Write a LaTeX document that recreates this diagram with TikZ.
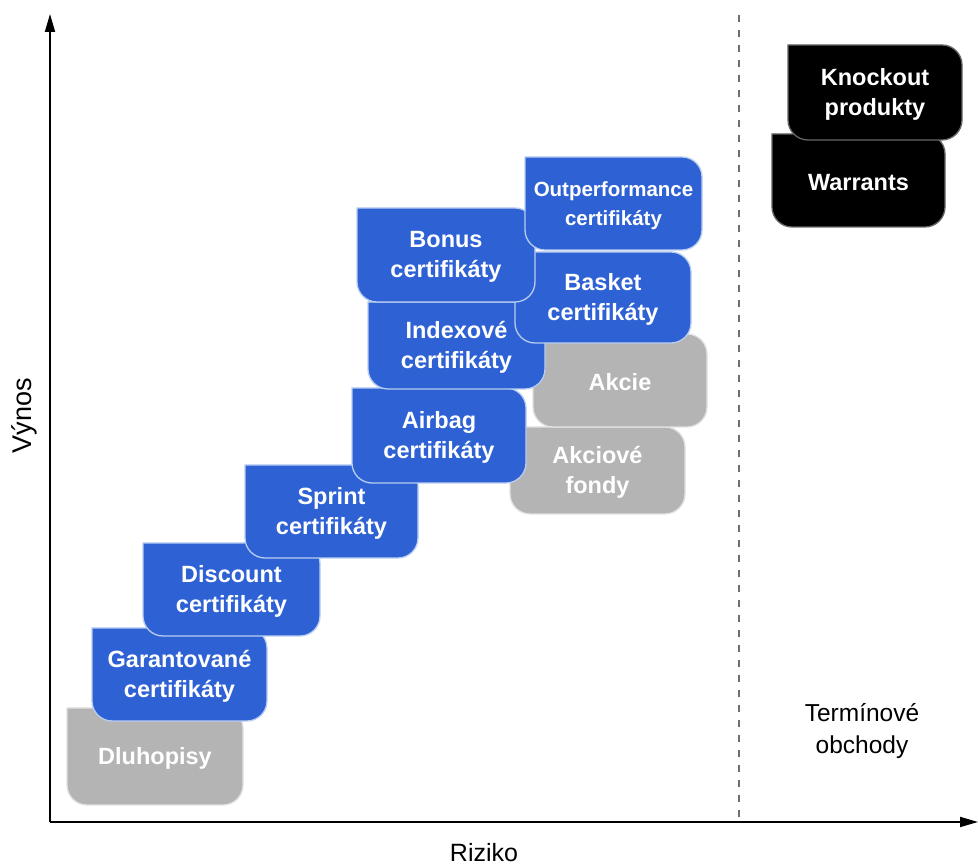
\documentclass[tikz,border=0pt]{standalone}
\usepackage{fontspec}
\setmainfont{Liberation Sans}
\usetikzlibrary{arrows.meta}
\definecolor{myblue}{RGB}{46,98,212}
\definecolor{myedge}{RGB}{185,205,240}
\definecolor{mygray}{RGB}{180,180,180}
\definecolor{mygrayedge}{RGB}{225,225,225}
\definecolor{dashgray}{RGB}{110,110,110}
\def\rr{20}
\newcommand\bx[7]{%
  \path[#6] (#2,{866-#3}) -- ({#4-\rr},{866-#3})
    arc[start angle=90,end angle=0,radius=\rr pt] -- (#4,{866-#5+\rr})
    arc[start angle=0,end angle=-90,radius=\rr pt] -- ({#2+\rr},{866-#5})
    arc[start angle=270,end angle=180,radius=\rr pt] -- cycle;
  \node[lbl] (#1) at ({(#2+#4)/2},{866-(#3+#5)/2-2}) {#7};}
\tikzset{
  bluebox/.style={fill=myblue, draw=myedge, line width=1.3pt},
  graybox/.style={fill=mygray, draw=mygrayedge, line width=1.3pt},
  blackbox/.style={fill=black, draw=black!60, line width=1.3pt},
  lbl/.style={text=white, align=center, inner sep=0pt, font=\fontsize{23.5}{29.5}\selectfont\bfseries},
  axis/.style={line width=1.8pt, -{Triangle[length=18pt,width=10pt]}},
  axlbl/.style={text=black, align=center, inner sep=0pt, font=\fontsize{25}{31}\selectfont},
}
\begin{document}
\begin{tikzpicture}[x=1pt,y=1pt]
\useasboundingbox (0,0) rectangle (978,866);
% axes
\coordinate (o) at (50,{866-822});
\coordinate (ytop) at (50,{866-14});
\coordinate (xend) at (978,{866-822});
\coordinate (dt) at (739,{866-15});
\coordinate (db) at (739,{866-822});
\draw[dashgray, line width=2pt, dash pattern=on 7pt off 8pt] (dt) -- (db);
\draw[axis] (o) -- (ytop);
\draw[axis] (o) -- (xend);
\node[axlbl] (riz) at (484,{866-853}) {Riziko};
\node[axlbl, rotate=90, font=\fontsize{27}{31}\selectfont] (vyn) at (24,{866-416}) {Výnos};
\node[axlbl, font=\fontsize{24.5}{32}\selectfont] (term) at (862,{866-731}) {Termínové\\obchody};
% gray boxes
\bx{dluh}{67}{708}{243}{805}{graybox}{Dluhopisy}
\bx{akcf}{510}{427}{685}{514}{graybox}{Akciové\\fondy}
\bx{akcie}{533}{334}{707}{427}{graybox}{Akcie}
% blue boxes
\bx{gar}{92}{628}{267}{721}{bluebox}{Garantované\\certifikáty}
\bx{disc}{143}{543}{320}{636}{bluebox}{Discount\\certifikáty}
\bx{sprint}{245}{465}{418}{558}{bluebox}{Sprint\\certifikáty}
\bx{airbag}{352}{388}{526}{483}{bluebox}{Airbag\\certifikáty}
\bx{index}{368}{302}{545}{389}{bluebox}{Indexové\\certifikáty}
\bx{basket}{515}{252}{691}{343}{bluebox}{Basket\\certifikáty}
\bx{bonus}{357}{208}{535}{302}{bluebox}{Bonus\\certifikáty}
{\tikzset{lbl/.append style={font=\fontsize{20.5}{29}\selectfont\bfseries}}
\bx{outp}{525}{157}{702}{250}{bluebox}{Outperformance\\certifikáty}}
% black boxes
\bx{warr}{772}{134}{945}{227}{blackbox}{Warrants}
\bx{knock}{788}{45}{962}{140}{blackbox}{Knockout\\produkty}
\end{tikzpicture}
\end{document}
